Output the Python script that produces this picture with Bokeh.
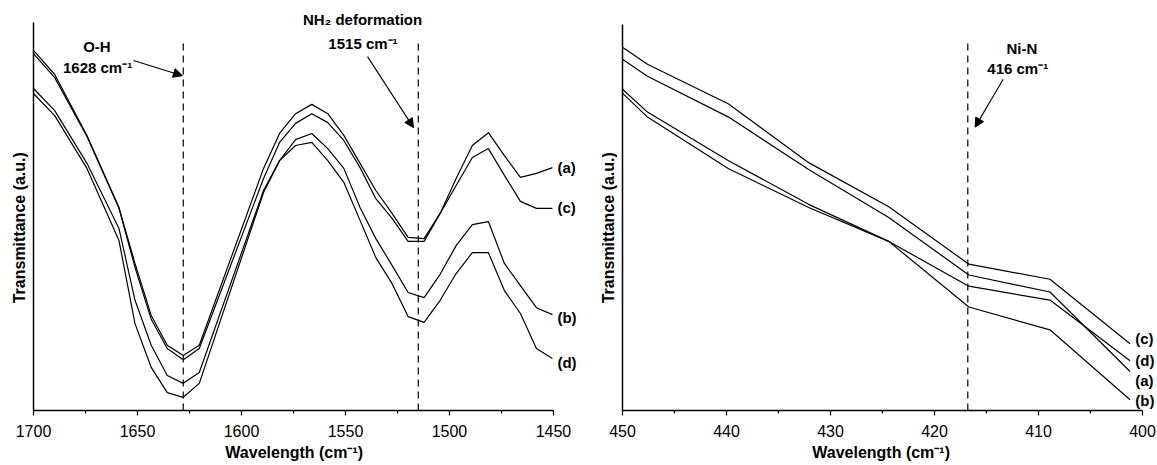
from bokeh.plotting import figure
from bokeh.layouts import row
from bokeh.models import Range1d, FixedTicker, Label, Arrow, NormalHead
from bokeh.embed import file_html
from bokeh.resources import INLINE

# ---------------- data: left panel (1700-1450 cm-1) ----------------
left_wn = [1700, 1689.8, 1674.3, 1658.9, 1651.2, 1643.4, 1635.7, 1628.0, 1620.3,
           1589.4, 1581.7, 1574.0, 1566.2, 1558.5, 1550.8, 1543.0, 1535.4, 1527.6,
           1519.9, 1512.2, 1504.5, 1496.8, 1489.0, 1481.3, 1473.6, 1465.9, 1458.2, 1450.5]
left_a = [92.8, 86.6, 70.9, 52.3, 37.9, 24.5, 16.8, 14.2, 16.8,
          62.4, 71.4, 76.5, 78.9, 76.5, 70.9, 63.7, 56.7, 50.8,
          44.6, 44.3, 50.8, 59.8, 68.3, 71.6, 65.7, 60.1, 61.1, 62.6]
left_c = [92.0, 85.8, 70.6, 52.1, 36.9, 23.5, 16.0, 13.1, 16.0,
          59.8, 69.1, 74.0, 76.5, 74.2, 69.6, 62.6, 54.6, 49.5,
          43.6, 43.6, 50.8, 58.0, 65.2, 67.5, 60.6, 53.9, 52.1, 52.1]
left_b = [83.0, 77.3, 63.7, 46.9, 28.4, 16.8, 9.0, 7.0, 9.8,
          56.7, 64.4, 69.8, 71.4, 67.5, 62.4, 52.3, 44.3, 37.4,
          30.4, 29.1, 35.1, 42.5, 47.9, 48.7, 37.9, 32.2, 26.5, 24.7]
left_d = [81.7, 76.0, 62.4, 43.8, 22.4, 11.1, 4.6, 3.4, 7.0,
          56.2, 64.4, 68.3, 69.1, 64.4, 58.8, 49.0, 39.4, 32.7,
          24.2, 22.7, 28.4, 35.3, 40.7, 40.7, 30.9, 25.0, 16.0, 13.4]
left_series = {"(a)": left_a, "(c)": left_c, "(b)": left_b, "(d)": left_d}
left_label_y = {"(a)": 62.6, "(c)": 52.3, "(b)": 24.0, "(d)": 12.4}
left_major = [1700, 1650, 1600, 1550, 1500, 1450]
left_minor = [1675, 1625, 1575, 1525, 1475]
left_marks = [1628, 1515]

# ---------------- data: right panel (450-400 cm-1) ----------------
right_wn = [450, 447.6, 439.8, 432.1, 424.4, 416.7, 408.9, 401.2]
right_c = [94.1, 89.7, 79.4, 64.2, 52.8, 37.9, 34.0, 17.3]
right_a = [91.0, 86.6, 76.0, 62.4, 50.0, 35.1, 30.7, 10.1]
right_d = [83.2, 77.3, 64.7, 53.4, 43.8, 32.2, 28.6, 12.9]
right_b = [82.2, 76.0, 62.6, 52.6, 43.8, 26.8, 20.9, 2.8]
right_series = {"(c)": right_c, "(d)": right_d, "(a)": right_a, "(b)": right_b}
right_label_y = {"(c)": 18.6, "(d)": 12.9, "(a)": 7.7, "(b)": 2.6}
right_major = [450, 440, 430, 420, 410, 400]
right_minor = [445, 435, 425, 415, 405]
right_marks = [416.8]

FONT = "Liberation Sans"
NB = "\u00a0"


def make_fig(x0, x1, xb, y1, major, minor, width, left, bottom, xpad, ypad):
    p = figure(width=width, height=465, output_backend="svg", toolbar_location=None,
               x_range=Range1d(x0, x1), y_range=Range1d(0, y1),
               min_border_left=left, min_border_right=0,
               min_border_top=0, min_border_bottom=bottom)
    p.outline_line_color = None
    p.grid.visible = False
    p.background_fill_color = "white"
    p.border_fill_color = "white"
    xa = p.xaxis[0]
    xa.bounds = xb
    xa.ticker = FixedTicker(ticks=major, minor_ticks=minor)
    xa.major_tick_out = 5
    xa.major_tick_in = 0
    xa.minor_tick_out = 3
    xa.minor_tick_in = 0
    xa.axis_line_width = 1.5
    xa.major_tick_line_width = 1.2
    xa.minor_tick_line_width = 1.2
    xa.major_label_text_font = FONT
    xa.major_label_text_font_size = "16px"
    xa.major_label_text_color = "black"
    xa.major_label_standoff = 9
    xa.axis_label = "Wavelength (cm⁻¹)" + NB * xpad
    xa.axis_label_text_font = FONT
    xa.axis_label_text_font_style = "bold"
    xa.axis_label_text_font_size = "16px"
    xa.axis_label_text_color = "black"
    xa.axis_label_standoff = 4
    ya = p.yaxis[0]
    ya.bounds = (0, 100)
    ya.ticker = FixedTicker(ticks=[])
    ya.major_tick_out = 0
    ya.minor_tick_out = 0
    ya.axis_line_width = 1.5
    ya.major_label_text_font_size = "0px"
    ya.axis_label = "Transmittance (a.u.)" + NB * ypad
    ya.axis_label_text_font = FONT
    ya.axis_label_text_font_style = "bold"
    ya.axis_label_text_font_size = "16px"
    ya.axis_label_text_color = "black"
    ya.axis_label_standoff = 6
    return p


def add_text(p, x, y, text, align="center"):
    p.add_layout(Label(x=x, y=y, text=text, text_align=align, text_baseline="middle",
                       text_font=FONT, text_font_style="bold", text_font_size="15px",
                       text_color="black"))


def add_arrow(p, x0, y0, x1, y1):
    p.add_layout(Arrow(end=NormalHead(size=9, fill_color="black", line_color="black", line_width=1),
                       x_start=x0, y_start=y0, x_end=x1, y_end=y1,
                       line_color="black", line_width=1.1))


# ---------------- left figure ----------------
p1 = make_fig(1700, 1432.2, (1450, 1700), 105.67, left_major, left_minor, 590, 33, 55, 8, 10)
for name, ys in left_series.items():
    p1.line(left_wn, ys, line_color="black", line_width=1.2)
for xm in left_marks:
    p1.line([xm, xm], [0, 95.4], line_color="black", line_width=1.2, line_dash="7 5")
for name, yl in left_label_y.items():
    add_text(p1, 1448.1, yl, name, align="left")
add_text(p1, 1669.5, 93.8, "O-H")
add_text(p1, 1669.2, 88.5, "1628 cm⁻¹")
add_arrow(p1, 1651.9, 90.2, 1628.4, 86.3)
add_text(p1, 1541.8, 100.8, "NH₂ deformation")
add_text(p1, 1541.6, 94.6, "1515 cm⁻¹")
add_arrow(p1, 1539.4, 91.2, 1517.3, 72.9)

# ---------------- right figure ----------------
p2 = make_fig(450, 398.56, (400, 450), 106.2, right_major, right_minor, 567, 32, 53, 4, 10)
for name, ys in right_series.items():
    p2.line(right_wn, ys, line_color="black", line_width=1.2)
for xm in right_marks:
    p2.line([xm, xm], [0, 95.1], line_color="black", line_width=1.2, line_dash="7 5")
for name, yl in right_label_y.items():
    add_text(p2, 400.7, yl, name, align="left")
add_text(p2, 411.6, 93.7, "Ni-N")
add_text(p2, 412.0, 88.5, "416 cm⁻¹")
add_arrow(p2, 413.4, 85.8, 416.1, 73.4)

layout = row(p1, p2)
open("out.html", "w").write(file_html(layout, INLINE))
